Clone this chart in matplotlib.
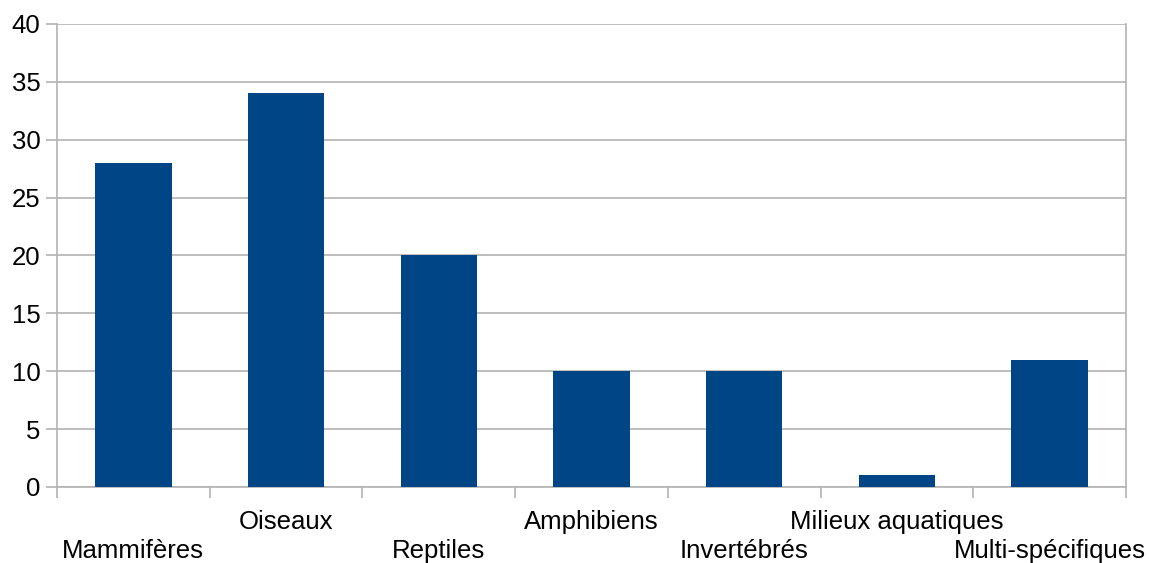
import numpy as np
import matplotlib.pyplot as plt

# categories and counts
categories = ['Mammifères', 'Oiseaux', 'Reptiles', 'Amphibiens',
              'Invertébrés', 'Milieux aquatiques', 'Multi-spécifiques']
counts = [28, 34, 20, 10, 10, 1, 11]
y_ticks = [0, 5, 10, 15, 20, 25, 30, 35, 40]

plt.rcParams['font.family'] = ['Liberation Sans', 'DejaVu Sans']

grey = '#b3b3b3'
bar_color = '#004586'
fsize = 18.5

fig = plt.figure(figsize=(11.49, 5.63), dpi=100)
ax = fig.add_axes([0.0496, 0.135, 0.9304, 0.8224])

x = np.arange(len(categories))
ax.bar(x, counts, width=0.5, color=bar_color, zorder=3)

ax.set_xlim(-0.5, len(categories) - 0.5)
ax.set_ylim(0, 40)
ax.set_yticks(y_ticks)
ax.yaxis.grid(True, color=grey, linewidth=1.2, zorder=0)

# spines
for side in ['left', 'right', 'bottom']:
    ax.spines[side].set_color(grey)
    ax.spines[side].set_linewidth(1.2)
ax.spines['top'].set_visible(False)

ax.tick_params(axis='y', length=8, width=1.2, color=grey, pad=4,
               labelsize=fsize, labelcolor='black')

# tick marks between categories, labels staggered in two rows
ax.set_xticks(np.arange(len(categories) + 1) - 0.5)
ax.set_xticklabels([])
ax.tick_params(axis='x', length=8, width=1.2, color=grey, direction='out')
for i, name in enumerate(categories):
    off = -46 if i % 2 == 0 else -25
    ax.annotate(name, xy=(x[i], 0), xycoords=('data', 'axes fraction'),
                xytext=(0, off), textcoords='offset points',
                ha='center', va='center', fontsize=fsize, annotation_clip=False)

fig.savefig('out.png', dpi=100)
